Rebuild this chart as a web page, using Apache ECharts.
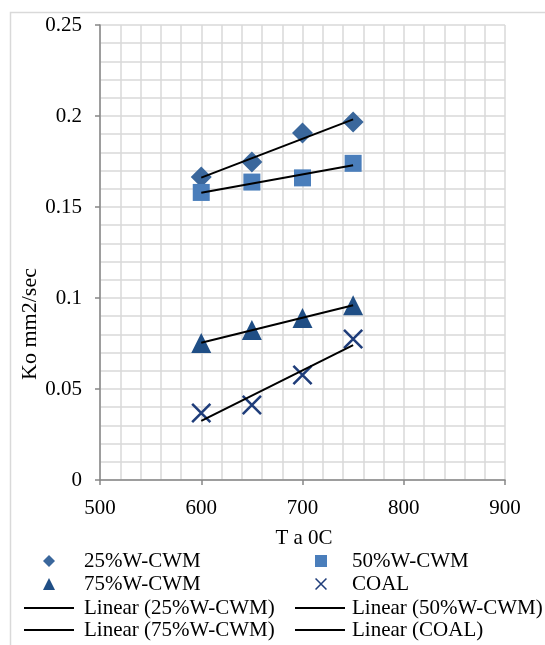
<!DOCTYPE html>
<html>
<head>
  <meta charset="UTF-8" />
  <title>Ko vs Ta</title>
  <script src="https://cdn.jsdelivr.net/npm/echarts@6/dist/echarts.min.js"></script>
  <style>
    html, body { margin: 0; padding: 0; background: #fff; }
    #chart { width: 545px; height: 645px; }
  </style>
</head>
<body>
  <div id="chart"></div>
  <script>
    // temperatures (T a 0C)
    const temps = [600, 650, 700, 750];
    // Ko mm2/sec
    const w25 = [0.1665, 0.1747, 0.1907, 0.1967];
    const w50 = [0.158, 0.1637, 0.166, 0.174];
    const w75 = [0.0753, 0.0824, 0.089, 0.096];
    const coal = [0.0368, 0.0412, 0.0577, 0.0775];

    const xTicks = [500, 600, 700, 800, 900];
    const yTicks = [0, 0.05, 0.1, 0.15, 0.2, 0.25];

    const FONT = '"Liberation Serif", "Times New Roman", serif';
    const crossPath = 'path://M0,0.9L0.9,0L10,9.1L9.1,10Z M9.1,0L10,0.9L0.9,10L0,9.1Z';

    // least squares, same as excel's linear trendline
    function trend(xs, ys) {
      const n = xs.length;
      const mx = xs.reduce((a, b) => a + b, 0) / n;
      const my = ys.reduce((a, b) => a + b, 0) / n;
      let sxy = 0, sxx = 0;
      xs.forEach((x, i) => { sxy += (x - mx) * (ys[i] - my); sxx += (x - mx) * (x - mx); });
      const b = sxy / sxx;
      const a = my - b * mx;
      const x0 = xs[0], x1 = xs[n - 1];
      return [[x0, a + b * x0], [x1, a + b * x1]];
    }

    const pts = ys => temps.map((t, i) => [t, ys[i]]);

    const scatter = (name, ys, symbol, size, color) => ({
      name: name,
      type: 'scatter',
      data: pts(ys),
      symbol: symbol,
      symbolSize: size,
      itemStyle: { color: color, opacity: 1 },
      z: 3
    });

    const trendLine = (name, ys) => ({
      name: name,
      type: 'line',
      data: trend(temps, ys),
      symbol: 'none',
      lineStyle: { color: '#000', width: 2 },
      itemStyle: { color: '#000' },
      z: 4
    });

    // one legend per entry so the 2-column excel layout can be placed exactly
    function markerLegend(name, icon, left, top, pad) {
      return {
        left: left, top: top, padding: 0,
        itemWidth: 12, itemHeight: 12,
        selectedMode: false,
        data: [{ name: name, icon: icon }],
        textStyle: { fontFamily: FONT, fontSize: 21, color: '#000', lineHeight: 22, padding: [0, 0, 0, pad] }
      };
    }
    function lineLegend(name, left, top, pad) {
      return {
        left: left, top: top, padding: 0,
        itemWidth: 50, itemHeight: 2,
        selectedMode: false,
        data: [{ name: name, icon: 'rect' }],
        textStyle: { fontFamily: FONT, fontSize: 21, color: '#000', lineHeight: 22, padding: [0, 0, 0, pad] }
      };
    }

    const chart = echarts.init(document.getElementById('chart'));
    chart.setOption({
      animation: false,
      backgroundColor: '#fff',
      grid: { left: 100, right: 40, top: 25, bottom: 165 },
      xAxis: {
        type: 'value',
        min: xTicks[0],
        max: xTicks[xTicks.length - 1],
        interval: 100,
        axisLine: { show: true, onZero: false, lineStyle: { color: '#868686', width: 1.5 } },
        axisTick: { show: true, length: 5, lineStyle: { color: '#868686', width: 1.5 } },
        axisLabel: { fontFamily: FONT, fontSize: 21, color: '#000', margin: 18 },
        splitLine: { show: true, lineStyle: { color: '#d9d9d9', width: 1.5 } },
        minorTick: { show: false, splitNumber: 5 },
        minorSplitLine: { show: true, lineStyle: { color: '#d9d9d9', width: 1.5 } }
      },
      yAxis: {
        type: 'value',
        min: yTicks[0],
        max: yTicks[yTicks.length - 1],
        interval: 0.05,
        axisLine: { show: true, lineStyle: { color: '#868686', width: 1.5 } },
        axisTick: { show: true, length: 5, lineStyle: { color: '#868686', width: 1.5 } },
        axisLabel: { fontFamily: FONT, fontSize: 21, color: '#000', margin: 18 },
        splitLine: { show: true, lineStyle: { color: '#d9d9d9', width: 1.5 } },
        minorTick: { show: false, splitNumber: 5 },
        minorSplitLine: { show: true, lineStyle: { color: '#d9d9d9', width: 1.5 } }
      },
      legend: [
        markerLegend('25%W-CWM', 'diamond', 43, 550, 24),
        markerLegend('50%W-CWM', 'rect', 315, 550, 20),
        markerLegend('75%W-CWM', 'triangle', 43, 573, 24),
        markerLegend('COAL', crossPath, 315, 573, 20),
        lineLegend('Linear (25%W-CWM)', 24, 597, 5),
        lineLegend('Linear (50%W-CWM)', 295, 597, 2),
        lineLegend('Linear (75%W-CWM)', 24, 619, 5),
        lineLegend('Linear (COAL)', 295, 619, 2)
      ],
      graphic: [
        {
          type: 'rect',
          left: 8, top: 10,
          shape: { width: 620, height: 660 },
          style: { fill: 'none', stroke: '#d9d9d9', lineWidth: 1.5 },
          silent: true
        },
        {
          type: 'text',
          x: 30, y: 324,
          rotation: Math.PI / 2,
          style: {
            text: 'Ko mm2/sec', fontFamily: FONT, fontSize: 22, fill: '#000',
            align: 'center', verticalAlign: 'middle'
          }
        },
        {
          type: 'text',
          x: 304, y: 538,
          style: {
            text: 'T a 0C', fontFamily: FONT, fontSize: 21, fill: '#000',
            align: 'center', verticalAlign: 'middle'
          }
        }
      ],
      series: [
        scatter('25%W-CWM', w25, 'diamond', 21, '#3a679c'),
        scatter('50%W-CWM', w50, 'rect', 17, '#4a7ebb'),
        scatter('75%W-CWM', w75, 'triangle', 20, '#1f4e85'),
        scatter('COAL', coal, crossPath, 20, '#1f3d7a'),
        trendLine('Linear (25%W-CWM)', w25),
        trendLine('Linear (50%W-CWM)', w50),
        trendLine('Linear (75%W-CWM)', w75),
        trendLine('Linear (COAL)', coal)
      ]
    });
  </script>
</body>
</html>
